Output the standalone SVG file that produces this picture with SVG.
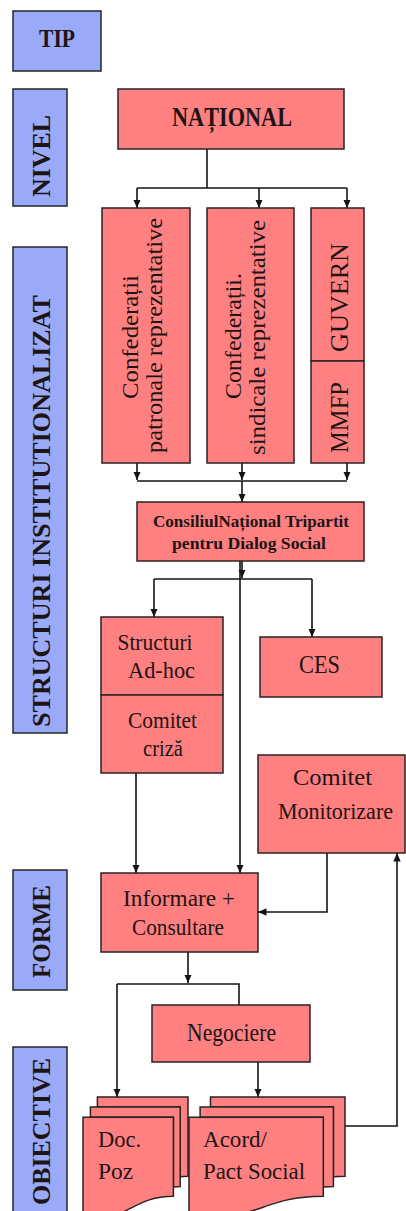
<svg xmlns="http://www.w3.org/2000/svg" width="406" height="1211" viewBox="0 0 406 1211">
  <defs>
    <style>
      .lbl { fill: #9AAAF9; stroke: #262626; stroke-width: 1.5; }
      .box { fill: #FF8080; stroke: #2b2222; stroke-width: 1.5; }
      .t { font-family: "Liberation Serif", "Times New Roman", serif; fill: #1e1414; }
      .tb { font-family: "Liberation Serif", "Times New Roman", serif; font-weight: bold; fill: #1e1414; }
      .h26 { font-size: 26px; }
      .c { text-anchor: middle; }
      .wire { fill: none; stroke: #141414; stroke-width: 1.6; }
      .arr { marker-end: url(#ah); }
    </style>
    <marker id="ah" markerUnits="userSpaceOnUse" markerWidth="9" markerHeight="8" refX="8.5" refY="3.75" orient="auto">
      <path d="M0,0 L8.5,3.75 L0,7.5 z" fill="#141414"/>
    </marker>
  </defs>

  <rect width="406" height="1211" fill="#ffffff"/>

  <!-- left-hand row labels -->
  <g id="tip">
    <rect class="lbl" x="13" y="11" width="88" height="60"/>
    <text class="tb c" x="57" y="47" font-size="26" textLength="36" lengthAdjust="spacingAndGlyphs">TIP</text>
  </g>
  <g id="nivel">
    <rect class="lbl" x="13" y="89" width="54" height="117"/>
    <text class="tb h26 c" transform="translate(50,156) rotate(-90)" textLength="82" lengthAdjust="spacingAndGlyphs">NIVEL</text>
  </g>
  <g id="structuri">
    <rect class="lbl" x="13" y="247" width="54" height="486"/>
    <text class="tb h26 c" transform="translate(50,511) rotate(-90)" textLength="432" lengthAdjust="spacingAndGlyphs">STRUCTURI INSTITUTIONALIZAT</text>
  </g>
  <g id="forme">
    <rect class="lbl" x="13" y="870" width="54" height="120"/>
    <text class="tb h26 c" transform="translate(50,931.5) rotate(-90)" textLength="93" lengthAdjust="spacingAndGlyphs">FORME</text>
  </g>
  <g id="obiective">
    <rect class="lbl" x="13" y="1047" width="54" height="180"/>
    <text class="tb h26 c" transform="translate(50,1131.5) rotate(-90)" textLength="147" lengthAdjust="spacingAndGlyphs">OBIECTIVE</text>
  </g>

  <!-- connectors -->
  <g id="connectors">
    <path class="wire" d="M207,149 V188"/>
    <path class="wire" d="M137,188 H347"/>
    <path class="wire arr" d="M137,188 V208"/>
    <path class="wire arr" d="M259,188 V208"/>
    <path class="wire arr" d="M347,188 V208"/>

    <path class="wire arr" d="M137,463 V480"/>
    <path class="wire arr" d="M242,463 V480"/>
    <path class="wire arr" d="M347,463 V480"/>
    <path class="wire" d="M137,481 H347"/>
    <path class="wire arr" d="M242,481 V502"/>

    <path class="wire arr" d="M242,561 V578"/>
    <path class="wire" d="M154,579 H312"/>
    <path class="wire arr" d="M154,579 V617"/>
    <path class="wire arr" d="M312,579 V637"/>
    <path class="wire arr" d="M240,561 V873"/>

    <path class="wire arr" d="M136,773 V873"/>
    <path class="wire arr" d="M327,853 V912 H258"/>

    <path class="wire arr" d="M188,952 V983"/>
    <path class="wire" d="M117,984 H239 V1005"/>
    <path class="wire arr" d="M117,984 V1097"/>
    <path class="wire arr" d="M258,1062 V1097"/>
    <path class="wire arr" d="M345,1126 H397 V853"/>
  </g>

  <!-- nodes -->
  <g id="national">
    <rect class="box" x="118" y="89" width="226" height="60"/>
    <text class="tb c" x="232" y="126" font-size="27" textLength="120" lengthAdjust="spacingAndGlyphs">NAȚIONAL</text>
  </g>

  <g id="conf-patronale">
    <rect class="box" x="102" y="208" width="88" height="255"/>
    <text class="t c" font-size="24" transform="translate(138,337) rotate(-90)" textLength="124" lengthAdjust="spacingAndGlyphs">Confederații</text>
    <text class="t c" font-size="24" transform="translate(162,335.5) rotate(-90)" textLength="235" lengthAdjust="spacingAndGlyphs">patronale  reprezentative</text>
  </g>

  <g id="conf-sindicale">
    <rect class="box" x="207" y="208" width="87" height="255"/>
    <text class="t c" font-size="24" transform="translate(241,336) rotate(-90)" textLength="126" lengthAdjust="spacingAndGlyphs">Confederații.</text>
    <text class="t c" font-size="24" transform="translate(265,337.5) rotate(-90)" textLength="235" lengthAdjust="spacingAndGlyphs">sindicale reprezentative</text>
  </g>

  <g id="guvern">
    <rect class="box" x="311" y="208" width="53" height="153"/>
    <text class="t c" font-size="25" transform="translate(348,297.5) rotate(-90)" textLength="109" lengthAdjust="spacingAndGlyphs">GUVERN</text>
  </g>
  <g id="mmfp">
    <rect class="box" x="311" y="361" width="53" height="102"/>
    <text class="t c" font-size="25" transform="translate(348,417.5) rotate(-90)" textLength="71" lengthAdjust="spacingAndGlyphs">MMFP</text>
  </g>

  <g id="cntds">
    <rect class="box" x="137" y="502" width="227" height="59"/>
    <text class="tb c" x="251" y="527" font-size="17" textLength="196" lengthAdjust="spacingAndGlyphs">ConsiliulNațional Tripartit</text>
    <text class="tb c" x="249" y="549" font-size="17" textLength="154" lengthAdjust="spacingAndGlyphs">pentru Dialog Social</text>
  </g>

  <g id="structuri-adhoc">
    <rect class="box" x="101" y="617" width="122" height="78"/>
    <text class="t c" x="155" y="650" font-size="24" textLength="75" lengthAdjust="spacingAndGlyphs">Structuri</text>
    <text class="t c" x="161.5" y="678" font-size="24" textLength="67" lengthAdjust="spacingAndGlyphs">Ad-hoc</text>
  </g>
  <g id="comitet-criza">
    <rect class="box" x="101" y="695" width="122" height="78"/>
    <text class="t c" x="162.5" y="728" font-size="24" textLength="69" lengthAdjust="spacingAndGlyphs">Comitet</text>
    <text class="t c" x="163" y="756" font-size="24" textLength="40" lengthAdjust="spacingAndGlyphs">criză</text>
  </g>

  <g id="ces">
    <rect class="box" x="260" y="637" width="122" height="60"/>
    <text class="t c" x="319.5" y="673" font-size="25" textLength="41" lengthAdjust="spacingAndGlyphs">CES</text>
  </g>

  <g id="comitet-monitorizare">
    <rect class="box" x="258" y="755" width="147" height="98"/>
    <text class="t c" x="332.5" y="785" font-size="24" textLength="79" lengthAdjust="spacingAndGlyphs">Comitet</text>
    <text class="t c" x="335.5" y="819" font-size="24" textLength="115" lengthAdjust="spacingAndGlyphs">Monitorizare</text>
  </g>

  <g id="informare">
    <rect class="box" x="101" y="873" width="157" height="79"/>
    <text class="t c" x="179" y="906" font-size="24" textLength="112" lengthAdjust="spacingAndGlyphs">Informare  +</text>
    <text class="t c" x="178" y="935" font-size="24" textLength="92" lengthAdjust="spacingAndGlyphs">Consultare</text>
  </g>

  <g id="negociere">
    <rect class="box" x="152" y="1005" width="158" height="57"/>
    <text class="t c" x="231.5" y="1041" font-size="25" textLength="89" lengthAdjust="spacingAndGlyphs">Negociere</text>
  </g>

  <!-- stacked document shapes -->
  <g id="doc-poz">
    <path class="box" d="M97.4,1107 V1097 H188 V1176.3 C184.1,1176.3 180.2,1176.7 180.2,1176.7 V1107 Z"/>
    <path class="box" d="M90.4,1117.2 V1107 H180.2 V1186.5 C176.8,1186.5 173.4,1187.1 173.4,1187.1 V1117.2 Z"/>
    <path class="box" d="M83,1117.2 H173.4 V1196.3 C128.2,1196.3 128.2,1226.7 83,1211.5 Z"/>
    <text class="t" x="98" y="1147" font-size="23" textLength="43" lengthAdjust="spacingAndGlyphs">Doc.</text>
    <text class="t" x="98" y="1179" font-size="23" textLength="35" lengthAdjust="spacingAndGlyphs">Poz</text>
  </g>

  <g id="acord-pact">
    <path class="box" d="M210.5,1107 V1097 H345 V1176.3 C339.2,1176.3 333.4,1176.7 333.4,1176.7 V1107 Z"/>
    <path class="box" d="M200.1,1117.2 V1107 H333.4 V1186.5 C328.4,1186.5 323.3,1187.1 323.3,1187.1 V1117.2 Z"/>
    <path class="box" d="M189,1117.2 H323.3 V1196.3 C256.2,1196.3 256.2,1226.7 189,1211.5 Z"/>
    <text class="t" x="203" y="1147" font-size="23" textLength="64" lengthAdjust="spacingAndGlyphs">Acord/</text>
    <text class="t" x="203" y="1179" font-size="23" textLength="102" lengthAdjust="spacingAndGlyphs">Pact Social</text>
  </g>
</svg>
